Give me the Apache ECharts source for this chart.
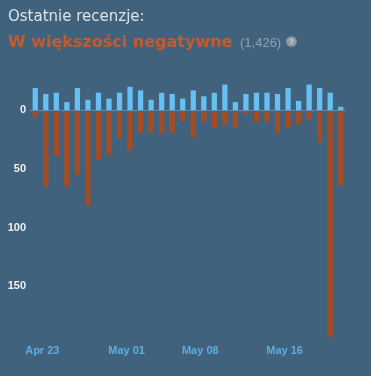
<!DOCTYPE html>
<html>
<head>
<meta charset="utf-8">
<script src="https://cdn.jsdelivr.net/npm/echarts@6/dist/echarts.min.js"></script>
<style>
html,body{margin:0;padding:0;background:#41627c;}
#chart{width:371px;height:376px;}
</style>
</head>
<body>
<div id="chart"></div>
<script>
const dates = ['Apr 22','Apr 23','Apr 24','Apr 25','Apr 26','Apr 27','Apr 28','Apr 29','Apr 30',
  'May 01','May 02','May 03','May 04','May 05','May 06','May 07','May 08','May 09','May 10',
  'May 11','May 12','May 13','May 14','May 15','May 16','May 17','May 18','May 19','May 20','May 21'];
const positive = [19,14,15,7,19,9,15,10,15,20,17,9,15,14,10,17,12,15,22,7,14,15,15,14,19,8,22,19,15,3];
const negative = [6,65,39,65,55,81,42,38,24,34,19,19,20,19,9,23,10,15,12,15,3,10,10,19,15,12,8,27,193,64];
const tickLabels = ['Apr 23','May 01','May 08','May 16'];
const yTickValues = [0,50,100,150];
const headerTitle = 'Ostatnie recenzje:';
const summaryText = 'W większości negatywne';
const countText = '(1,426)';

const chart = echarts.init(document.getElementById('chart'), null, {renderer:'canvas'});
chart.setOption({
  backgroundColor:'#41627c',
  animation:false,
  title:[
    {text:headerTitle,left:8,top:10,padding:0,
     textStyle:{fontFamily:'DejaVu Sans',fontSize:15,fontWeight:'normal',color:'#dfe3e6'}},
    {text:summaryText,left:8,top:35,padding:0,
     textStyle:{fontFamily:'DejaVu Sans',fontSize:16,fontWeight:'bold',color:'#c35c2c'}},
    {text:countText,left:240,top:37,padding:0,
     textStyle:{fontFamily:'Liberation Sans',fontSize:13,fontWeight:'normal',color:'#8ca3b4'}}
  ],
  graphic:[
    {type:'circle',shape:{cx:291.5,cy:41.5,r:5.3},style:{fill:'#8e9ba6'}},
    {type:'text',x:291.5,y:41.8,style:{text:'?',fill:'#d4dadf',font:'bold 8px Liberation Sans',align:'center',verticalAlign:'middle'}}
  ],
  grid:{left:30,width:316,top:81,height:264,containLabel:false},
  xAxis:{
    type:'category',data:dates,position:'bottom',
    axisLine:{show:false},axisTick:{show:false},
    axisLabel:{
      interval:(i,v)=>tickLabels.includes(v),
      color:'#5dade0',fontFamily:'Liberation Sans',fontSize:11,fontWeight:'bold',
      margin:0,padding:[0,7,0,0]
    }
  },
  yAxis:{
    type:'value',min:-200,max:25,interval:50,
    axisLine:{show:false},axisTick:{show:false},splitLine:{show:false},
    axisLabel:{
      margin:4,color:'#eef2f5',fontFamily:'Liberation Sans',fontSize:11,fontWeight:'bold',
      formatter:v=>yTickValues.includes(-v)?String(Math.abs(v)):''
    }
  },
  series:[
    {type:'bar',name:'positive',data:positive,barWidth:'50%',barGap:'-100%',
     itemStyle:{color:'#66c0f4'},
     markLine:{silent:true,symbol:'none',label:{show:false},data:[{yAxis:0}],
       lineStyle:{color:'#5b8fb4',width:1,type:'solid'}}},
    {type:'bar',name:'negative',data:negative.map(v=>-v),barWidth:'50%',barGap:'-100%',
     itemStyle:{color:'#a34c25'}}
  ]
});
</script>
</body>
</html>
